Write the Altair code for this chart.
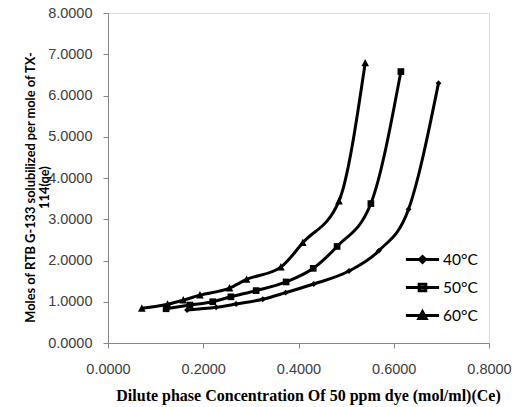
import altair as alt
import pandas as pd

series = ["40°C", "50°C", "60°C"]

x40 = [0.166, 0.227, 0.269, 0.325, 0.373, 0.432, 0.506, 0.569, 0.631, 0.694]
y40 = [0.80, 0.865, 0.945, 1.06, 1.22, 1.43, 1.745, 2.24, 3.24, 6.30]

x50 = [0.122, 0.172, 0.220, 0.258, 0.311, 0.374, 0.431, 0.481, 0.552, 0.615]
y50 = [0.83, 0.92, 1.00, 1.12, 1.27, 1.48, 1.81, 2.34, 3.38, 6.58]

x60 = [0.071, 0.125, 0.158, 0.193, 0.255, 0.291, 0.363, 0.409, 0.485, 0.540]
y60 = [0.84, 0.94, 1.04, 1.16, 1.33, 1.54, 1.84, 2.43, 3.44, 6.79]

x_ticks = [0.0, 0.2, 0.4, 0.6, 0.8]
y_ticks = [0, 1, 2, 3, 4, 5, 6, 7, 8]

rows = []
for name, xs, ys in zip(series, [x40, x50, x60], [y40, y50, y60]):
    for i, (a, b) in enumerate(zip(xs, ys)):
        rows.append({"series": name, "ce": a, "qe": b, "order": i})
df = pd.DataFrame(rows)

marker_paths = [
    "M0,-0.75L0.75,0L0,0.75L-0.75,0Z",
    "M-0.8,-0.8L0.8,-0.8L0.8,0.8L-0.8,0.8Z",
    "M0,-0.9L0.85,0.75L-0.85,0.75Z",
]
legend_paths = [
    "M-1,0L1,0M0,-0.18L0.18,0L0,0.18L-0.18,0Z",
    "M-1,0L1,0M-0.2,-0.2L0.2,-0.2L0.2,0.2L-0.2,0.2Z",
    "M-1,0L1,0M0,-0.23L0.22,0.18L-0.22,0.18Z",
]

xenc = alt.X("ce:Q", scale=alt.Scale(domain=[0, 0.8], nice=False),
             axis=alt.Axis(values=x_ticks, format=".4f", grid=False,
                           title="Dilute phase Concentration Of 50 ppm dye (mol/ml)(Ce)",
                           titleFont="Liberation Serif", titleFontSize=16, titleFontWeight="bold",
                           titleColor="#000000", titlePadding=12, titleX=200,
                           labelFont="Liberation Sans", labelFontSize=14.5, labelColor="#404040",
                           labelPadding=14, tickSize=5, tickColor="#868686",
                           domainColor="#868686", labelFlush=False))
yenc = alt.Y("qe:Q", scale=alt.Scale(domain=[0, 8], nice=False),
             axis=alt.Axis(values=y_ticks, format=".4f", grid=False,
                           title=["Moles of RTB G-133 solubilized per mole of TX-", "114(qe)"],
                           titleFont="Lato", titleFontSize=12.8, titleFontWeight="bold",
                           titleColor="#000000", titleX=-74, titleY=174, titleAlign="center",
                           titleBaseline="alphabetic", titleAngle=-90,
                           labelFont="Liberation Sans", labelFontSize=14.5, labelColor="#404040",
                           labelPadding=11, tickSize=5, tickColor="#868686",
                           domainColor="#868686"))

lines = alt.Chart(df).mark_line(color="black", strokeWidth=3, interpolate="monotone").encode(
    x=xenc, y=yenc, detail="series:N", order="order:Q")

points = alt.Chart(df).mark_point(filled=True, color="black", opacity=1).encode(
    x="ce:Q", y="qe:Q",
    shape=alt.Shape("series:N", scale=alt.Scale(domain=series, range=marker_paths), legend=None),
    size=alt.Size("series:N", scale=alt.Scale(domain=series, range=[60, 80, 80]), legend=None))

legend_layer = alt.Chart(df).transform_filter("false").mark_point(
    filled=False, color="black", strokeWidth=3, opacity=1).encode(
    x="ce:Q", y="qe:Q",
    shape=alt.Shape("series:N", scale=alt.Scale(domain=series, range=legend_paths),
                    legend=alt.Legend(title=None, orient="none", legendX=296, legendY=228,
                                      symbolSize=1100, symbolFillColor="black",
                                      symbolStrokeColor="black", symbolStrokeWidth=3,
                                      labelFont="Lato", labelFontSize=15.5, labelColor="#000000",
                                      labelOffset=2, rowPadding=0, symbolOpacity=1)))

chart = alt.layer(lines, points, legend_layer).resolve_scale(shape="independent", size="independent").properties(
    width=381, height=330,
    autosize=alt.AutoSizeParams(type="none"),
    padding={"left": 108, "top": 13, "right": 29, "bottom": 64},
).configure_view(stroke="#868686", strokeWidth=1).configure(background="white")

chart.save("out.html", embed_options={"renderer": "svg", "actions": False})
